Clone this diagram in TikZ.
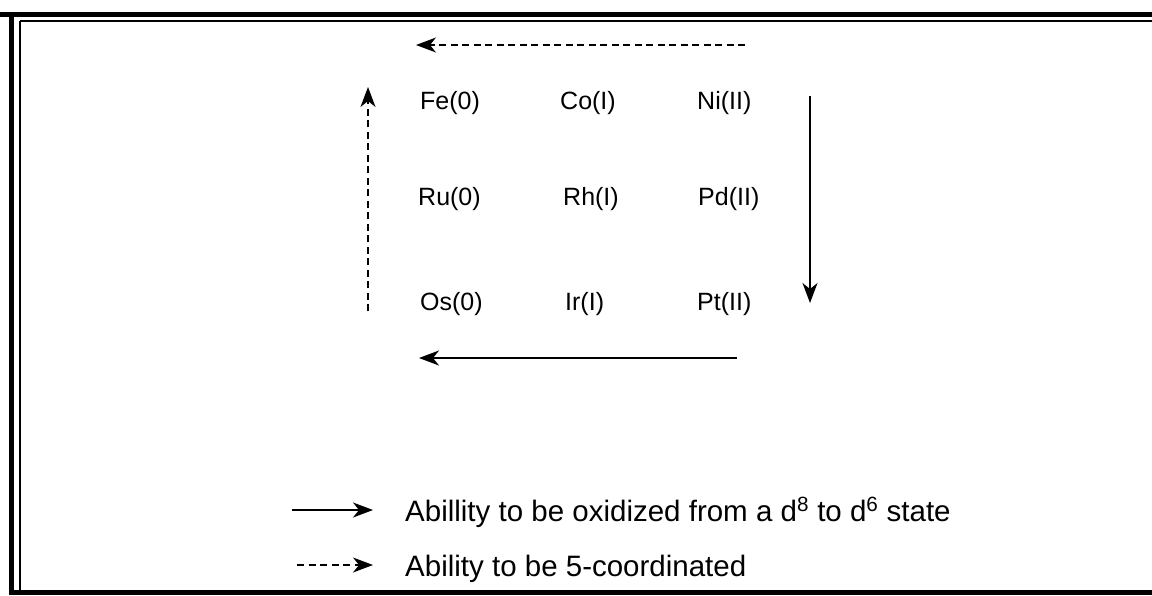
\documentclass[tikz,border=0pt]{standalone}
\usepackage{fontspec}
\setmainfont{Liberation Sans}
\usetikzlibrary{arrows.meta}
\begin{document}
\begin{tikzpicture}[x=1pt,y=-1pt,
  lbl/.style={anchor=base west,inner sep=0pt,font=\fontsize{25}{29}\selectfont},
  leglbl/.style={anchor=base west,inner sep=0pt,font=\fontsize{29.5}{34}\selectfont},
  head/.style={-{Stealth[length=20pt,width=15pt,inset=6pt]}},
  solidarrow/.style={line width=1.8pt,head},
  dasharrow/.style={line width=1.5pt,dash pattern=on 7pt off 4.5pt,head},
  frame/.style={line width=5pt},
  thinframe/.style={line width=1.5pt}]
\useasboundingbox (0,0) rectangle (1152,595);
\fill[white] (0,0) rectangle (1152,595);
% frame
\draw[frame] (0,14) -- (1152,14);
\draw[thinframe] (20,21) -- (1152,21);
\draw[frame] (11,12) -- (11,595);
\draw[thinframe] (20,21) -- (20,590);
\draw[frame] (9,592.5) -- (1152,592.5);
% grid
\node[lbl] (fe) at (420,109) {Fe(0)};
\node[lbl] (co) at (560,109) {Co(I)};
\node[lbl] (ni) at (697,109) {Ni(II)};
\node[lbl] (ru) at (418,205) {Ru(0)};
\node[lbl] (rh) at (563,205) {Rh(I)};
\node[lbl] (pd) at (698,205) {Pd(II)};
\node[lbl] (os) at (420,310) {Os(0)};
\node[lbl] (ir) at (565,310) {Ir(I)};
\node[lbl] (pt) at (697,310) {Pt(II)};
% arrows
\coordinate (topR) at (745,45);
\coordinate (topL) at (416,45);
\coordinate (leftB) at (368,311);
\coordinate (leftT) at (368,87);
\coordinate (rightT) at (810,96);
\coordinate (rightB) at (810,303);
\coordinate (botR) at (737,358);
\coordinate (botL) at (419,358);
\draw[dasharrow] (topR) -- (topL);
\draw[dasharrow] (leftB) -- (leftT);
\draw[solidarrow] (rightT) -- (rightB);
\draw[solidarrow] (botR) -- (botL);
% legend
\coordinate (l1a) at (292,510);
\coordinate (l1b) at (373,510);
\coordinate (l2a) at (297,565);
\coordinate (l2b) at (373,565);
\draw[solidarrow] (l1a) -- (l1b);
\draw[dasharrow] (l2a) -- (l2b);
\node[leglbl] (leg1) at (405,521) {Abillity to be oxidized from a d\textsuperscript{8} to d\textsuperscript{6} state};
\node[leglbl] (leg2) at (405,576) {Ability to be 5-coordinated};
\end{tikzpicture}
\end{document}
